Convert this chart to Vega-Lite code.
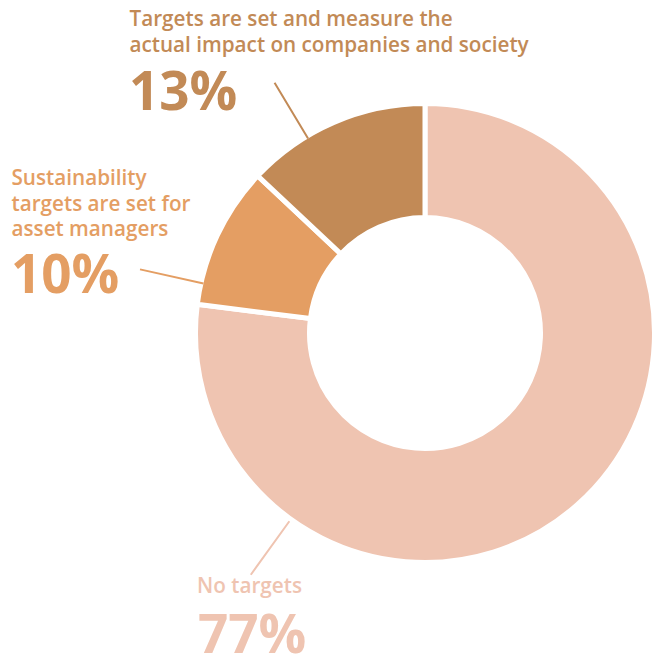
{
  "$schema": "https://vega.github.io/schema/vega-lite/v6.json",
  "width": 456,
  "height": 456,
  "autosize": {"type": "none"},
  "padding": {"left": 197, "top": 105, "right": 1, "bottom": 96},
  "background": "white",
  "config": {"view": {"stroke": null}},
  "data": {
    "values": [
      {"category": "No targets", "share": 0.77},
      {"category": "Sustainability\ntargets are set for\nasset managers", "share": 0.10},
      {"category": "Targets are set and measure the\nactual impact on companies and society", "share": 0.13}
    ]
  },
  "encoding": {
    "color": {
      "field": "category",
      "type": "nominal",
      "scale": {
        "domain": [
          "No targets",
          "Sustainability\ntargets are set for\nasset managers",
          "Targets are set and measure the\nactual impact on companies and society"
        ],
        "range": ["#EFC4B1", "#E49E63", "#C28A56"]
      },
      "legend": null
    }
  },
  "layer": [
    {
      "mark": {"type": "arc", "outerRadius": 229.5, "innerRadius": 115.5, "stroke": "white", "strokeWidth": 5},
      "encoding": {
        "theta": {"field": "share", "type": "quantitative", "stack": true, "sort": "ascending"}
      }
    },
    {
      "transform": [{"filter": "datum.share == 0.13"}],
      "mark": {"type": "arc", "filled": false, "theta": 5.742, "theta2": 5.742, "innerRadius": 227, "outerRadius": 292, "strokeWidth": 2},
      "encoding": {}
    },
    {
      "transform": [{"filter": "datum.share == 0.10"}],
      "mark": {"type": "arc", "filled": false, "theta": 4.932, "theta2": 4.932, "innerRadius": 227, "outerRadius": 292, "strokeWidth": 2},
      "encoding": {}
    },
    {
      "transform": [{"filter": "datum.share == 0.77"}],
      "mark": {"type": "arc", "filled": false, "theta": 3.766, "theta2": 3.766, "innerRadius": 232, "outerRadius": 298, "strokeWidth": 2},
      "encoding": {}
    },
    {
      "transform": [{"filter": "datum.share == 0.13"}],
      "mark": {"type": "text", "align": "left", "baseline": "alphabetic", "dx": -295.5, "dy": -307, "font": "Open Sans", "fontSize": 20.7, "fontWeight": 600, "lineBreak": "\n", "lineHeight": 25.5},
      "encoding": {"text": {"field": "category"}}
    },
    {
      "transform": [{"filter": "datum.share == 0.13"}],
      "mark": {"type": "text", "align": "left", "baseline": "alphabetic", "dx": -296, "dy": -223, "font": "Open Sans", "fontSize": 53, "fontWeight": 700},
      "encoding": {"text": {"field": "share", "type": "quantitative", "format": ".0%"}}
    },
    {
      "transform": [{"filter": "datum.share == 0.10"}],
      "mark": {"type": "text", "align": "left", "baseline": "alphabetic", "dx": -413.5, "dy": -148, "font": "Open Sans", "fontSize": 20.7, "fontWeight": 600, "lineBreak": "\n", "lineHeight": 25.5},
      "encoding": {"text": {"field": "category"}}
    },
    {
      "transform": [{"filter": "datum.share == 0.10"}],
      "mark": {"type": "text", "align": "left", "baseline": "alphabetic", "dx": -414, "dy": -40, "font": "Open Sans", "fontSize": 53, "fontWeight": 700},
      "encoding": {"text": {"field": "share", "type": "quantitative", "format": ".0%"}}
    },
    {
      "transform": [{"filter": "datum.share == 0.77"}],
      "mark": {"type": "text", "align": "left", "baseline": "alphabetic", "dx": -228, "dy": 260, "font": "Open Sans", "fontSize": 20.7, "fontWeight": 600},
      "encoding": {"text": {"field": "category"}}
    },
    {
      "transform": [{"filter": "datum.share == 0.77"}],
      "mark": {"type": "text", "align": "left", "baseline": "alphabetic", "dx": -227, "dy": 320, "font": "Open Sans", "fontSize": 53, "fontWeight": 700},
      "encoding": {"text": {"field": "share", "type": "quantitative", "format": ".0%"}}
    }
  ]
}
